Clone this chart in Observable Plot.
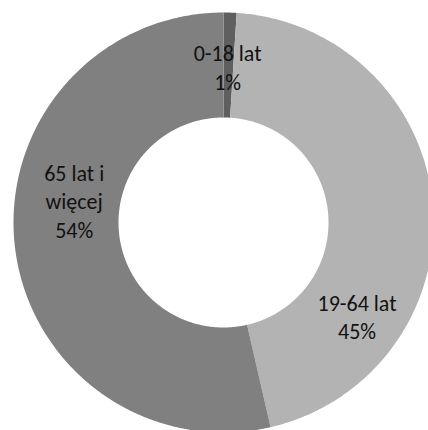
<!DOCTYPE html>
<html>
<head>
<meta charset="utf-8">
<script src="https://cdn.jsdelivr.net/npm/d3@7"></script>
<script src="https://cdn.jsdelivr.net/npm/@observablehq/plot@0.6"></script>
<style>
  html, body { margin: 0; padding: 0; background: #fff; }
  #chart svg { display: block; }
</style>
</head>
<body>
<div id="chart"></div>
<script>
// Data
const categories = ["0-18 lat", "19-64 lat", "65 lat i więcej"];
const labelLines = ["0-18 lat", "19-64 lat", "65 lat i\nwięcej"];
const shares = [1.0, 45.4, 53.6];
const colors = ["#5f5f5f", "#b3b3b3", "#808080"];

// Layout (label anchor angle in degrees clockwise from top, radius in px)
const labelAngle = [1.5, 125, 278.5];
const labelRadius = [156, 163, 151];

const W = 428, H = 430;
const cx = 223, cy = 222, R = 210, r0 = 105;

const total = d3.sum(shares);
let acc = 0;
const slices = shares.map((v, i) => {
  const a0 = acc / total * 2 * Math.PI;
  acc += v;
  const a1 = acc / total * 2 * Math.PI;
  return {cat: categories[i], a0, a1, i};
});

// polygon outline for each slice (outer arc then inner arc back)
const pts = [];
for (const s of slices) {
  const n = Math.max(4, Math.ceil((s.a1 - s.a0) / (Math.PI / 360)));
  for (let k = 0; k <= n; k++) {
    const a = s.a0 + (s.a1 - s.a0) * k / n;
    pts.push({cat: s.cat, x: R * Math.sin(a), y: R * Math.cos(a)});
  }
  for (let k = n; k >= 0; k--) {
    const a = s.a0 + (s.a1 - s.a0) * k / n;
    pts.push({cat: s.cat, x: r0 * Math.sin(a), y: r0 * Math.cos(a)});
  }
}

const labels = categories.map((c, i) => {
  const a = labelAngle[i] * Math.PI / 180;
  return {
    text: labelLines[i] + "\n" + Math.round(shares[i] / total * 100) + "%",
    x: labelRadius[i] * Math.sin(a),
    y: labelRadius[i] * Math.cos(a)
  };
});

const chart = Plot.plot({
  width: W,
  height: H,
  margin: 0,
  style: {background: "#fff"},
  x: {domain: [-cx, W - cx], range: [0, W], axis: null},
  y: {domain: [cy - H, cy], range: [H, 0], axis: null},
  color: {domain: categories, range: colors},
  marks: [
    Plot.line(pts, {x: "x", y: "y", z: "cat", fill: "cat", stroke: "none", curve: "linear"}),
    Plot.text(labels, {
      x: "x", y: "y", text: "text",
      fontSize: 22, lineHeight: 1.3, fill: "#111",
      fontFamily: "Carlito, Calibri, Lato, sans-serif",
      fontWeight: 400,
      textAnchor: "middle"
    })
  ]
});
document.getElementById("chart").appendChild(chart);
</script>
</body>
</html>
